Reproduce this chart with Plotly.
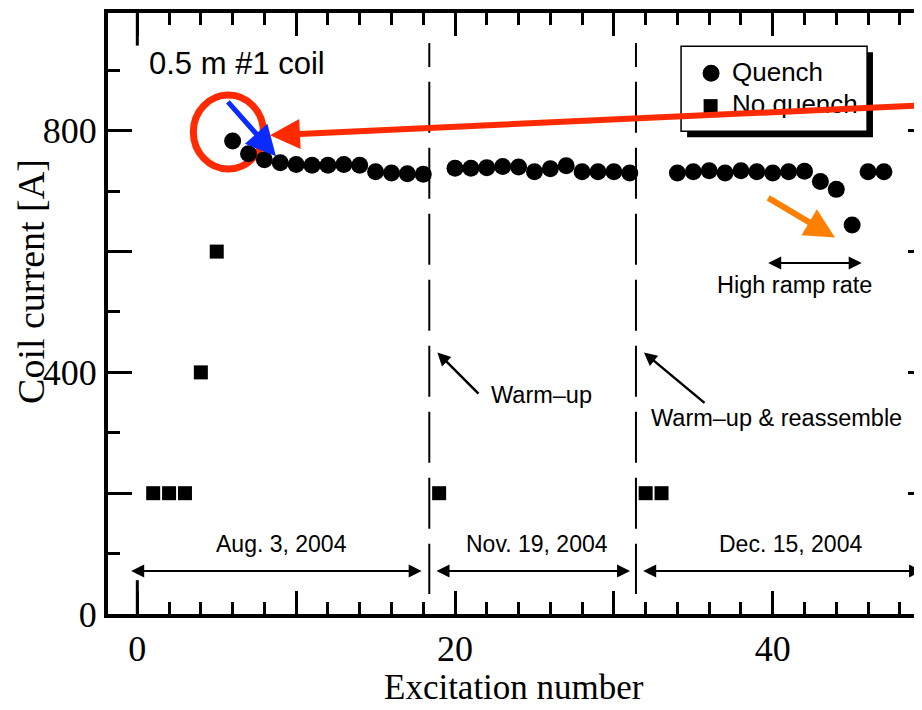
import plotly.graph_objects as go

# ---- data ----
quench_x = [6, 7, 8, 9, 10, 11, 12, 13, 14, 15, 16, 17, 18,
            20, 21, 22, 23, 24, 25, 26, 27, 28, 29, 30, 31,
            34, 35, 36, 37, 38, 39, 40, 41, 42, 43, 44, 45, 46, 47]
quench_y = [783, 762, 752, 747, 744, 743, 743, 744, 743, 732, 730, 729, 728,
            738, 738, 739, 741, 740, 732, 737, 742, 732, 732, 732, 730,
            730, 732, 734, 730, 734, 732, 730, 732, 733, 716, 703, 644, 732, 732]
noquench_x = [1, 2, 3, 4, 5, 19, 32, 33]
noquench_y = [200, 200, 200, 400, 600, 200, 200, 200]

x_tickvals = [0, 10, 20, 30, 40]
x_ticktext = ["0", "", "20", "", "40"]
y_tickvals = [0, 200, 400, 600, 800]
y_ticktext = ["0", "", "400", "", "800"]

session_labels = ["Aug. 3, 2004", "Nov. 19, 2004", "Dec. 15, 2004"]
session_label_x = [9.09, 25.13, 41.09]
session_start = [-0.48, 18.74, 31.75]
session_end = [17.90, 31.02, 49.40]
breaks_x = [18.38, 31.39]

X_RANGE = [-1.845, 49.90]
Y_RANGE = [0, 995]

SANS = "Liberation Sans, Arial, sans-serif"
SERIF = "Liberation Serif, Times New Roman, serif"

fig = go.Figure()
fig.add_trace(go.Scatter(x=quench_x, y=quench_y, mode="markers", name="Quench",
                         marker=dict(symbol="circle", size=17, color="black", line=dict(width=0)),
                         showlegend=False))
fig.add_trace(go.Scatter(x=noquench_x, y=noquench_y, mode="markers", name="No quench",
                         marker=dict(symbol="square", size=14, color="black", line=dict(width=0)),
                         showlegend=False))
# holder trace for right-side tick axis
fig.add_trace(go.Scatter(x=[None], y=[None], yaxis="y2", showlegend=False, hoverinfo="skip"))

shapes = []
# red circle
shapes.append(dict(type="circle", xref="x", yref="y", xsizemode="pixel", ysizemode="pixel",
                   xanchor=5.73, yanchor=798, x0=-35, x1=35, y0=-37, y1=37,
                   line=dict(color="#ff2a00", width=7), layer="below"))
# session break lines
for bx in breaks_x:
    shapes.append(dict(type="line", xref="x", yref="y", x0=bx, x1=bx, y0=945.2, y1=905.5,
                       line=dict(color="black", width=2)))
    shapes.append(dict(type="line", xref="x", yref="y", x0=bx, x1=bx, y0=881.0, y1=33.1,
                       line=dict(color="black", width=2, dash="51px,15px")))
# longer tick at x=0 (bottom & top)
shapes.append(dict(type="line", xref="x", yref="y", x0=0, x1=0, y0=0, y1=56,
                   line=dict(color="black", width=3)))
shapes.append(dict(type="line", xref="x", yref="y", x0=0, x1=0, y0=995, y1=941,
                   line=dict(color="black", width=3)))
# legend box with shadow
shapes.append(dict(type="rect", xref="x", yref="y", x0=34.61, x1=46.31, y0=789.2, y1=929.9,
                   fillcolor="black", line=dict(width=0)))
shapes.append(dict(type="rect", xref="x", yref="y", x0=34.23, x1=45.94, y0=799.1, y1=939.8,
                   fillcolor="white", line=dict(color="black", width=1.5)))
# legend symbols
shapes.append(dict(type="circle", xref="x", yref="y", xsizemode="pixel", ysizemode="pixel",
                   xanchor=36.12, yanchor=895.1, x0=-8.5, x1=8.5, y0=-8.5, y1=8.5,
                   fillcolor="black", line=dict(width=0)))
shapes.append(dict(type="rect", xref="x", yref="y", xsizemode="pixel", ysizemode="pixel",
                   xanchor=36.09, yanchor=840.8, x0=-7, x1=7, y0=-7, y1=7,
                   fillcolor="black", line=dict(width=0)))

ann = []
def arrow(x, y, ax, ay, color, width, head, size, both=False):
    d = dict(x=x, y=y, ax=ax, ay=ay, xref="x", yref="y", axref="x", ayref="y",
             text="", showarrow=True, arrowcolor=color, arrowwidth=width,
             arrowhead=head, arrowsize=size, standoff=0, startstandoff=0)
    if both:
        d.update(arrowside="end+start", startarrowhead=head, startarrowsize=size)
    ann.append(d)

def text(x, y, s, size, xanchor="center", yanchor="middle", family=SANS):
    ann.append(dict(x=x, y=y, xref="x", yref="y", text=s, showarrow=False,
                    xanchor=xanchor, yanchor=yanchor,
                    font=dict(family=family, size=size, color="black")))

# texts
text(0.62, 911.6, "0.5 m #1 coil", 31, xanchor="left")
text(37.30, 897, "Quench", 26, xanchor="left")
text(37.30, 845, "No quench", 26, xanchor="left")
text(41.37, 544.3, "High ramp rate", 23.5)
text(22.12, 362.3, "Warm\u2013up", 23.5, xanchor="left")
text(40.25, 324.3, "Warm\u2013up &amp; reassemble", 23.5)
for lx, lab in zip(session_label_x, session_labels):
    text(lx, 115.8, lab, 23)

# arrows
for s0, s1 in zip(session_start, session_end):
    arrow(s1, 71.1, s0, 71.1, "black", 2, 2, 1.3, both=True)
arrow(45.60, 581.2, 39.62, 581.2, "black", 2, 2, 1.3, both=True)
arrow(18.89, 433.0, 21.57, 362.3, "black", 2.5, 2, 1.05)
arrow(31.89, 433.0, 35.80, 347.4, "black", 2.5, 2, 1.05)
arrow(8.73, 757.8, 5.62, 850.4, "#0a2aff", 5, 2, 1.2)
arrow(43.92, 623.2, 39.62, 690.4, "#ff8000", 6, 2, 1.0)
arrow(8.35, 792.5, 49.40, 842.2, "#ff2a00", 6, 2, 1.0)

# axis titles
ann.append(dict(x=-0.094, y=0.5537, xref="paper", yref="paper", text="Coil current [A]",
                textangle=-90, showarrow=False, xanchor="center", yanchor="middle",
                font=dict(family=SERIF, size=38, color="black")))
ann.append(dict(x=0.4945, y=-0.158, xref="paper", yref="paper", text="Excitation number",
                showarrow=False, xanchor="center", yanchor="bottom",
                font=dict(family=SERIF, size=35, color="black")))

tickfont = dict(family=SERIF, size=36, color="black")
fig.update_layout(
    width=922, height=710,
    margin=dict(l=100, r=0, t=4.6, b=104),
    paper_bgcolor="white", plot_bgcolor="white",
    showlegend=False,
    xaxis=dict(range=X_RANGE, showline=True, linecolor="black", linewidth=4, mirror="ticks",
               ticks="inside", ticklen=23, tickwidth=3, tickcolor="black",
               tickmode="array", tickvals=x_tickvals, ticktext=x_ticktext,
               minor=dict(ticks="inside", ticklen=12, tickwidth=3, tickcolor="black",
                          tickmode="linear", tick0=0, dtick=2),
               showgrid=False, zeroline=False, tickfont=tickfont),
    yaxis=dict(range=Y_RANGE, showline=True, linecolor="black", linewidth=4, mirror=False,
               ticks="inside", ticklen=24, tickwidth=3, tickcolor="black",
               tickmode="array", tickvals=y_tickvals, ticktext=y_ticktext,
               minor=dict(ticks="inside", ticklen=12, tickwidth=3, tickcolor="black",
                          tickmode="linear", tick0=0, dtick=100),
               showgrid=False, zeroline=False, tickfont=tickfont),
    yaxis2=dict(range=Y_RANGE, overlaying="y", side="right", showline=False,
                ticks="inside", ticklen=22, tickwidth=3, tickcolor="black",
                tickmode="array", tickvals=y_tickvals, showticklabels=False,
                minor=dict(ticks="inside", ticklen=10, tickwidth=3, tickcolor="black",
                           tickmode="linear", tick0=0, dtick=100),
                showgrid=False, zeroline=False),
    shapes=shapes,
    annotations=ann,
)

fig.write_html("out.html")
